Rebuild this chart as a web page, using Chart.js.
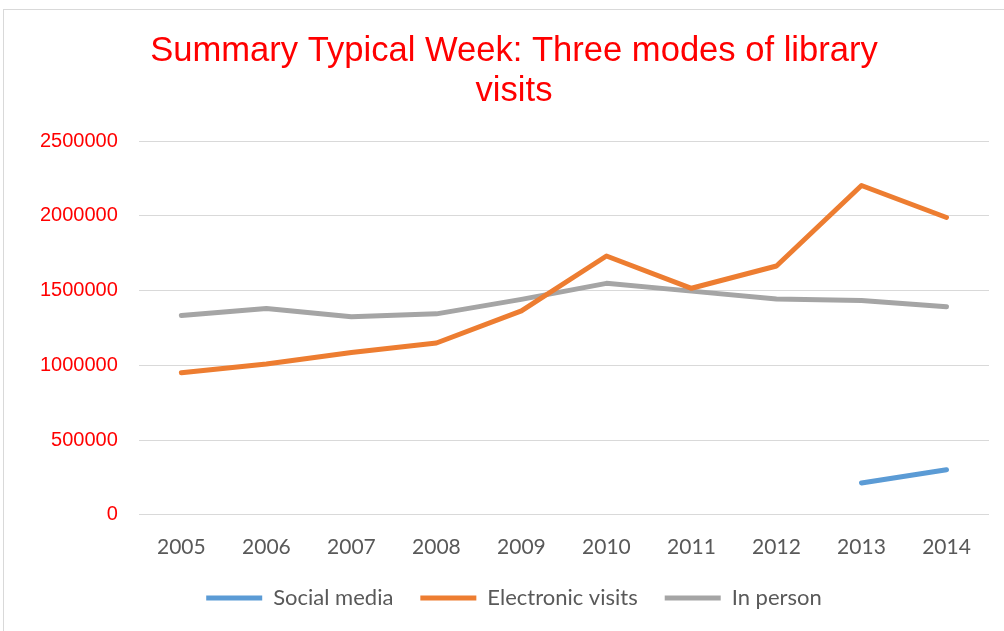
<!DOCTYPE html>
<html><head><meta charset="utf-8">
<script src="https://cdn.jsdelivr.net/npm/chart.js@4.4.0/dist/chart.umd.min.js"></script>
<style>
html,body{margin:0;padding:0;background:#fff;overflow:hidden;width:1004px;height:631px;}
#wrap{position:absolute;left:3px;top:9px;width:1020px;height:640px;border:1px solid #d9d9d9;box-sizing:border-box;}
canvas{display:block}
</style></head><body>
<div id="wrap"><canvas id="c"></canvas></div>
<script>
const categories = ['2005','2006','2007','2008','2009','2010','2011','2012','2013','2014'];
const socialMedia = [null,null,null,null,null,null,null,null,213000,302000];
const electronicVisits = [951000,1009000,1086000,1150000,1365000,1732000,1516000,1665000,2204000,1990000];
const inPerson = [1334000,1381000,1325000,1345000,1442000,1549000,1497000,1444000,1435000,1392000];
const yMin = 0, yMax = 2500000, yStep = 500000;
const titleLines = ['Summary Typical Week: Three modes of library','visits'];

function ds(label, data, color){
  return {label, data, borderColor: color, backgroundColor: color, borderWidth: 5,
    pointRadius: 0, pointHoverRadius: 0, tension: 0, borderCapStyle: 'round', borderJoinStyle: 'round', fill: false};
}

new Chart(document.getElementById('c'), {
  type: 'line',
  data: {
    labels: categories,
    datasets: [
      ds('Social media', socialMedia, '#5B9BD5'),
      ds('Electronic visits', electronicVisits, '#ED7D31'),
      ds('In person', inPerson, '#A5A5A5')
    ]
  },
  options: {
    responsive: true,
    maintainAspectRatio: false,
    animation: false,
    layout: {padding: {left: 35, right: 33, top: 0, bottom: 29}},
    plugins: {
      title: {display: true, text: titleLines, color: '#FF0000',
        font: {family: 'Liberation Sans', size: 34.6, weight: 'normal', lineHeight: 1.16},
        padding: {top: 21, bottom: 30}},
      legend: {position: 'bottom',
        labels: {usePointStyle: true, pointStyle: 'line', pointStyleWidth: 56, boxHeight: 5,
          color: '#595959', font: {family: 'Lato', size: 22}, padding: 27}},
      tooltip: {enabled: false}
    },
    scales: {
      x: {
        offset: true,
        grid: {display: false, offset: true},
        border: {display: false},
        ticks: {color: '#595959', font: {family: 'Lato', size: 21}, padding: 12, maxRotation: 0},
        afterFit: (s) => { s.height -= 12; }
      },
      y: {
        min: yMin, max: yMax,
        grid: {color: '#D9D9D9', lineWidth: 1, drawTicks: false},
        border: {display: false},
        ticks: {stepSize: yStep, color: '#FF0000', font: {family: 'Liberation Sans', size: 20}, padding: 21,
          callback: (v) => String(v)},
        afterFit: (s) => { s.width -= 20; }
      }
    }
  }
});
</script>
</body></html>
